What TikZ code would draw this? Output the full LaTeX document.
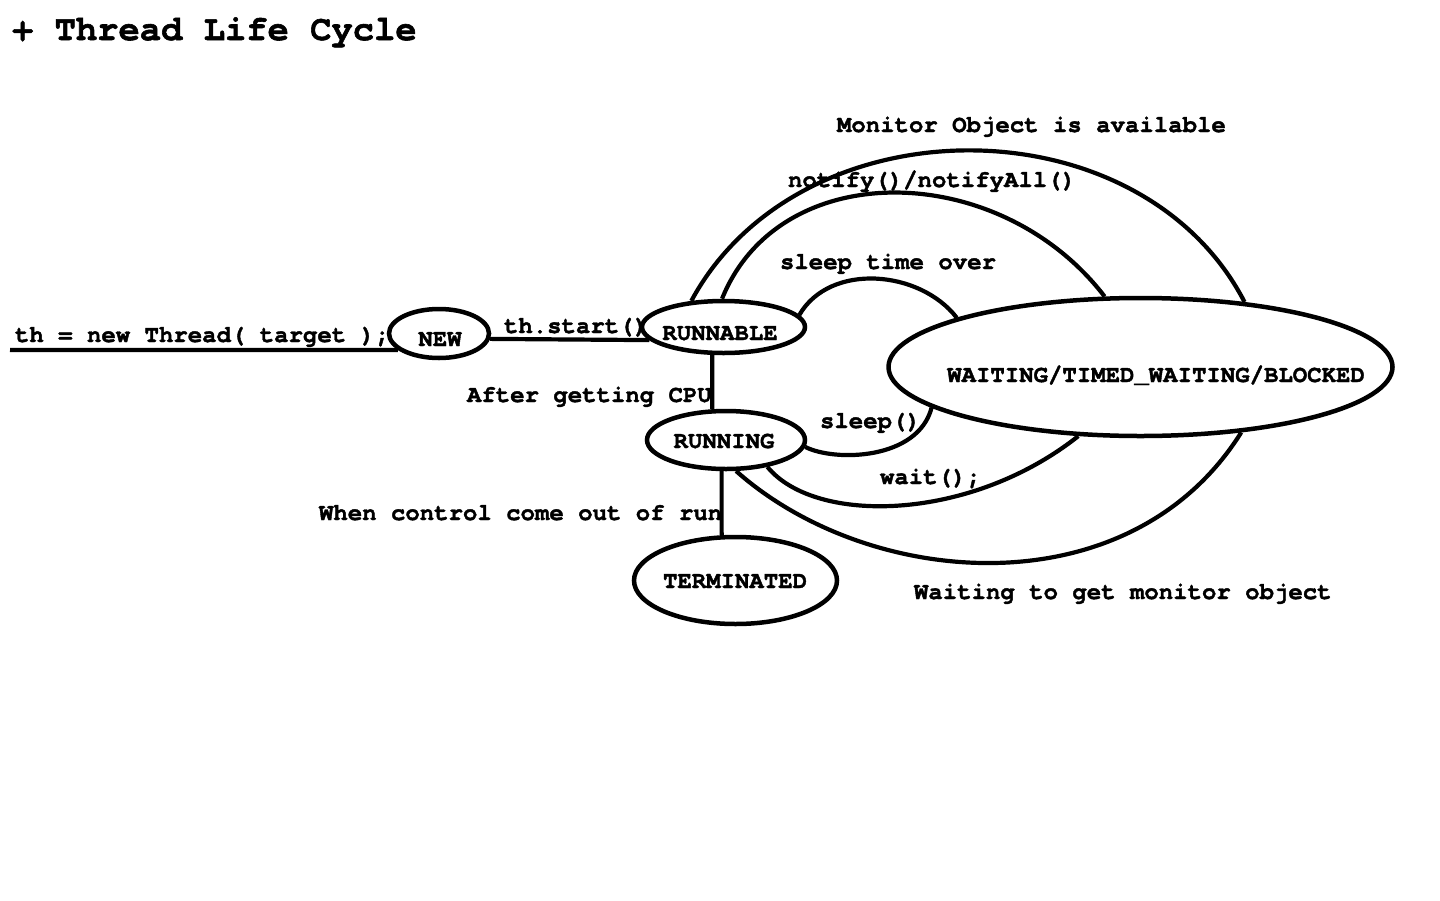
\documentclass[tikz,border=0pt]{standalone}
\usepackage{fontspec}
\setmonofont{TeX Gyre Cursor}[BoldFeatures={FakeBold=1.6}]
\usetikzlibrary{shapes.geometric}
\begin{document}
\begin{tikzpicture}[x=1pt,y=-1pt,
  every path/.style={line width=4pt},
  lbl/.style={font=\ttfamily\bfseries\fontsize{24}{26}\selectfont, inner sep=0pt},
  state/.style={ellipse, draw, line width=4.5pt, inner sep=0pt},
  conn/.style={line width=4.2pt}]
\useasboundingbox (0,0) rectangle (1440,900);
% title
\node[lbl, anchor=base west, font=\ttfamily\bfseries\fontsize{35.5}{38}\selectfont] (title) at (10,40) {+ Thread Life Cycle};
% states
\node[state, minimum width=100pt, minimum height=49pt] (new) at (439,333.5) {};
\node[state, minimum width=163pt, minimum height=52pt] (runnable) at (723.5,327) {};
\node[state, minimum width=158pt, minimum height=58pt] (running) at (726,440) {};
\node[state, minimum width=203pt, minimum height=87pt] (term) at (735.5,580.5) {};
\node[state, minimum width=504pt, minimum height=138pt] (wait) at (1140.5,367) {};
% state labels
\node[lbl, anchor=base] (newl) at (440,346) {NEW};
\node[lbl, anchor=base] (runnablel) at (720,340) {RUNNABLE};
\node[lbl, anchor=base] (runningl) at (724,448) {RUNNING};
\node[lbl, anchor=base] (terml) at (735,588) {TERMINATED};
\node[lbl, anchor=base] (waitl) at (1156,382) {WAITING/TIMED\_WAITING/BLOCKED};
% edge labels
\node[lbl, anchor=base west] (create) at (13,342) {th = new Thread( target );};
\node[lbl, anchor=base west] (start) at (502,333) {th.start()};
\node[lbl, anchor=base west] (cpu) at (465,402) {After getting CPU};
\node[lbl, anchor=base west] (ctrl) at (317,520) {When control come out of run};
\node[lbl, anchor=base west] (monav) at (835,132) {Monitor Object is available};
\node[lbl, anchor=base west] (notify) at (786,187) {notify()/notifyAll()};
\node[lbl, anchor=base west] (sto) at (778,269) {sleep time over};
\node[lbl, anchor=base west] (sleep) at (818,428) {sleep()};
\node[lbl, anchor=base west] (waitc) at (878,484) {wait();};
\node[lbl, anchor=base west] (wgm) at (912,599) {Waiting to get monitor object};
% connectors
\coordinate (c0) at (10,350);
\draw[conn] (c0) -- (new.-158);
\draw[conn] (new.-6) -- (runnable.-170.6);
\draw[conn] (runnable.-112) -- (running.114.4);
\draw[conn] (running.-98) -- (term.107.4);
\draw[conn] (runnable.141.7) .. controls (800,100) and (1140,100) .. (wait.32.5);
\draw[conn] (runnable.93) .. controls (780,155) and (1000,160) .. (wait.117.5);
\draw[conn] (runnable.9) .. controls (830,262) and (920,270) .. (wait.165.5);
\draw[conn] (running.-5) .. controls (835,462) and (918,460) .. (wait.-169);
\draw[conn] (running.-33) .. controls (815,525) and (970,522) .. (wait.-132);
\draw[conn] (running.-72.7) .. controls (870,590) and (1130,610) .. (wait.-33);
\end{tikzpicture}
\end{document}
